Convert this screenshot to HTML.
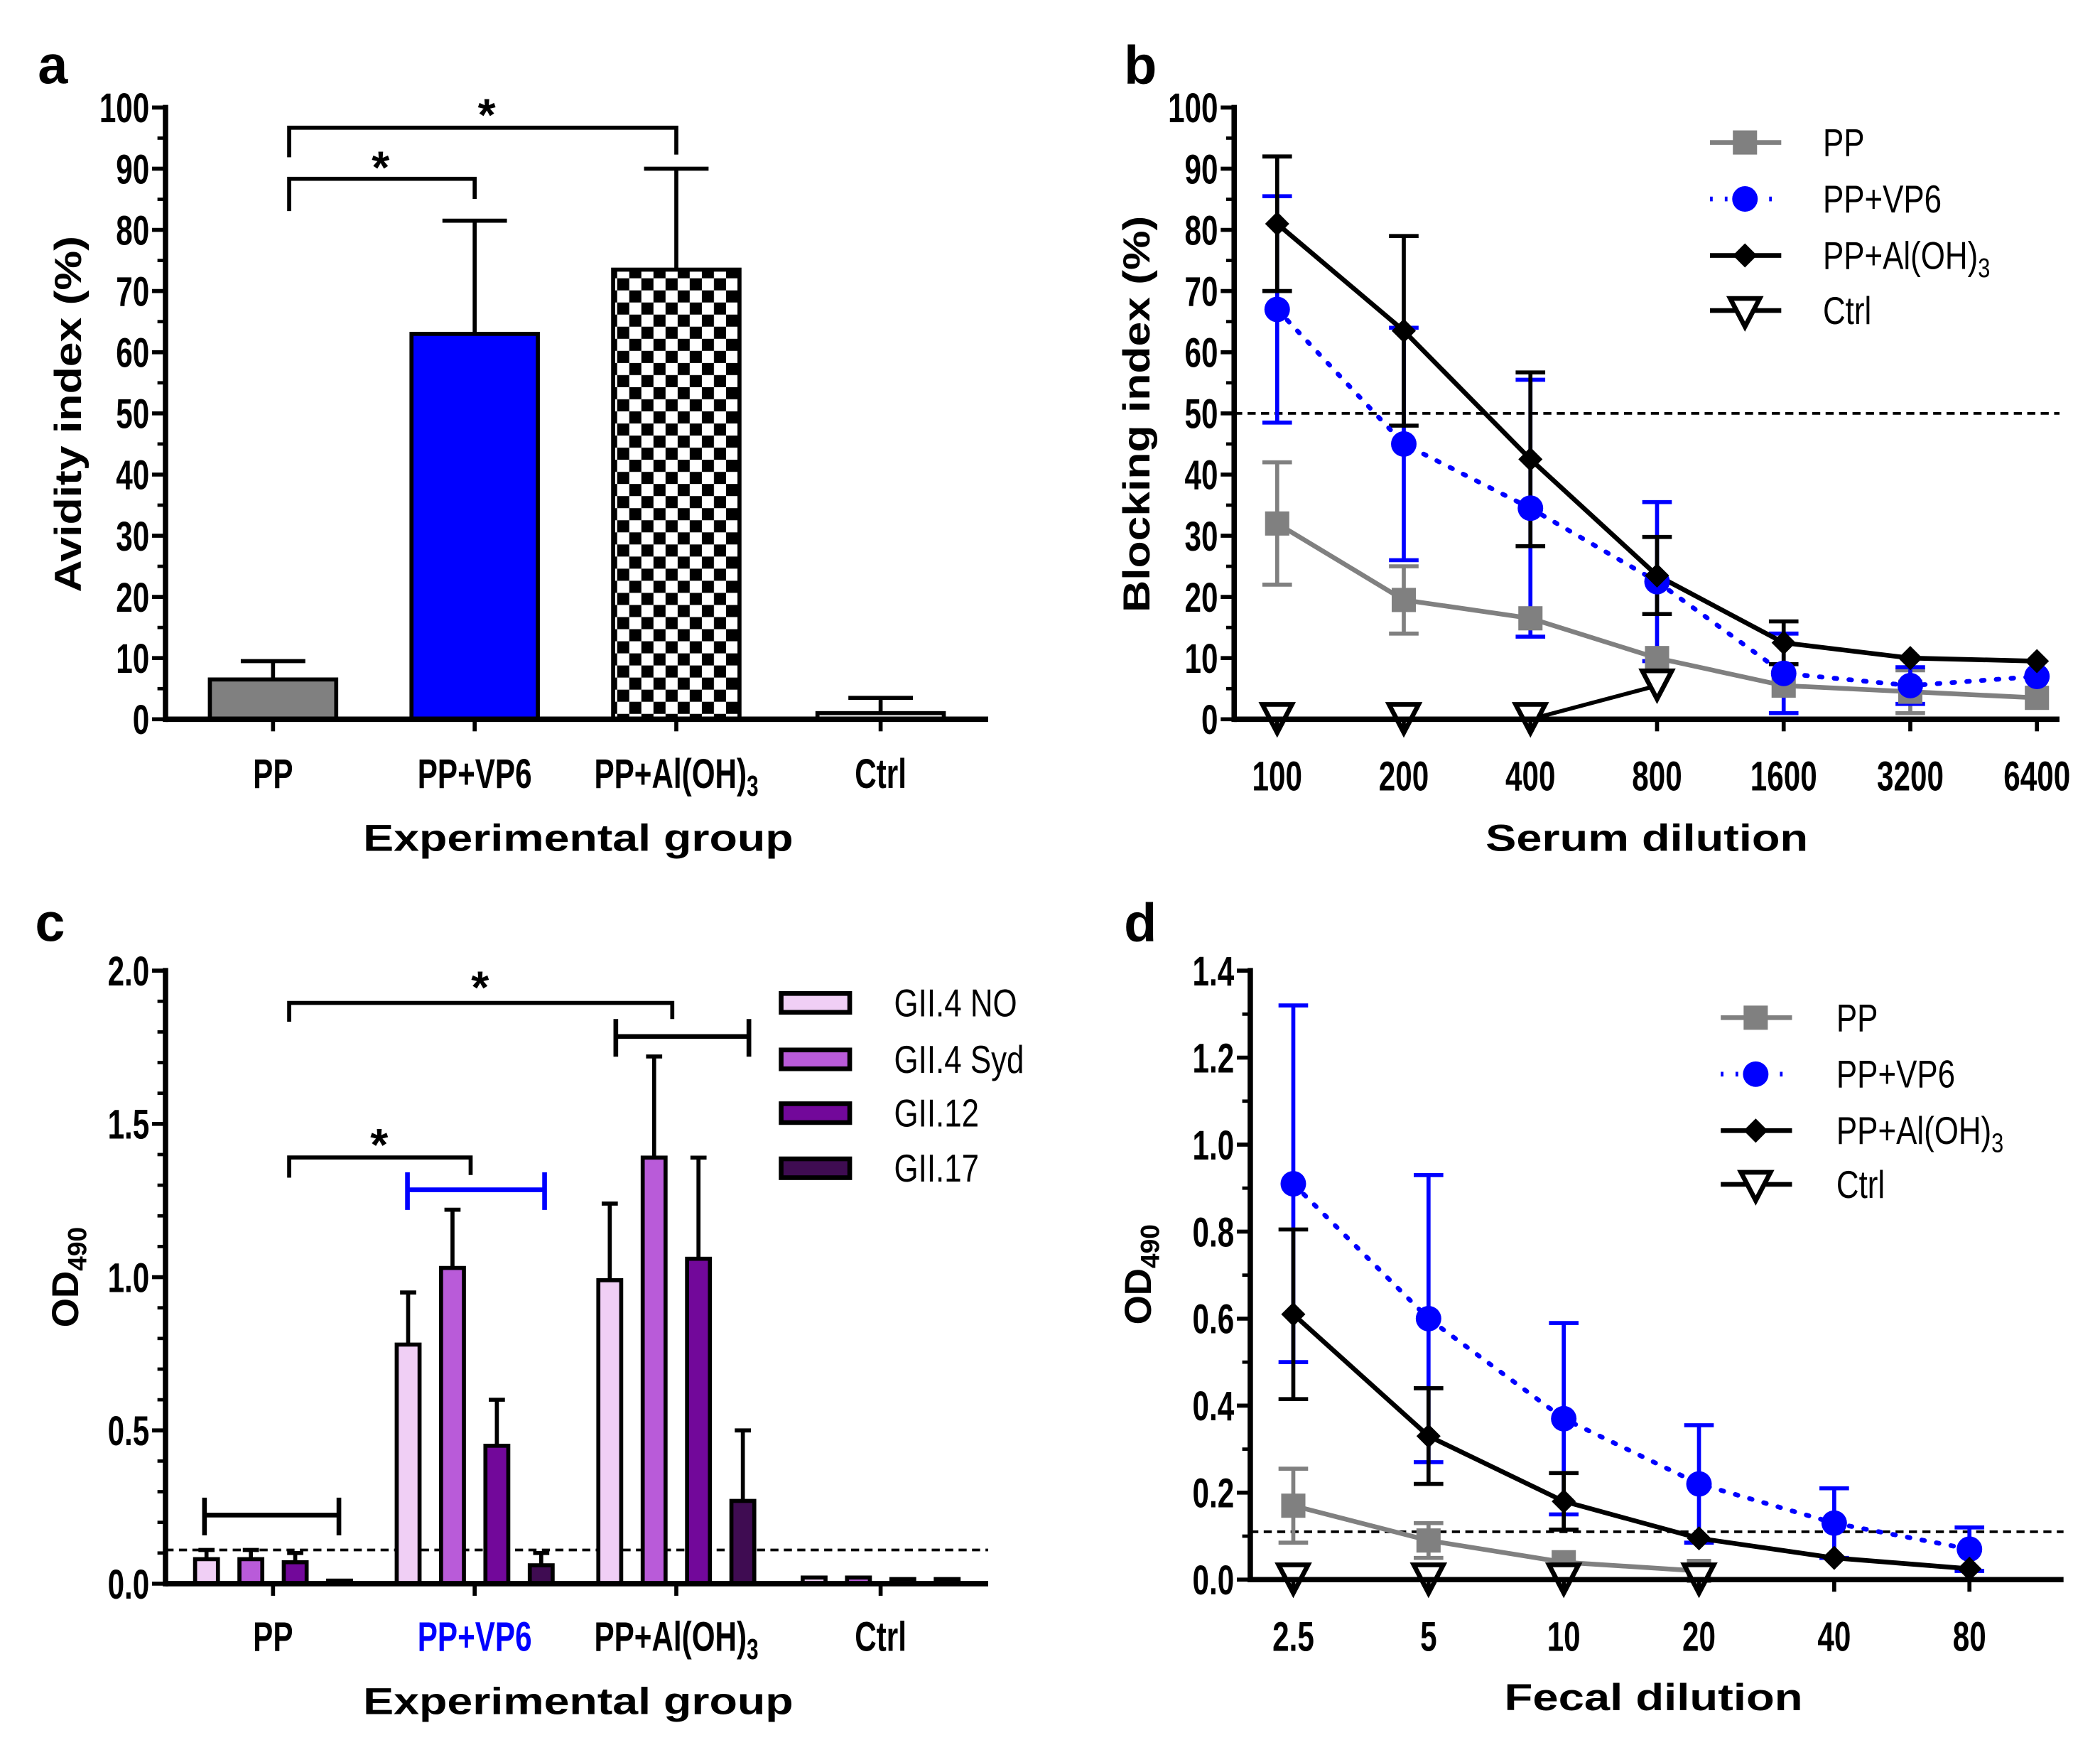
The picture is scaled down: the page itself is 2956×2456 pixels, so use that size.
<!DOCTYPE html>
<html><head><meta charset="utf-8"><style>
html,body{margin:0;padding:0;background:#fff}
svg{display:block}
</style></head><body>
<svg id="fig" xmlns="http://www.w3.org/2000/svg" width="2956" height="2456" viewBox="0 0 1562 1298">
<defs>
<pattern id="checker" patternUnits="userSpaceOnUse" width="18" height="18">
<rect width="18" height="18" fill="#fff"/><rect width="9" height="9" fill="#000"/><rect x="9" y="9" width="9" height="9" fill="#000"/>
</pattern>
</defs>
</svg>
<script>
// ---------- Panel a data ----------
const aGroups = ['PP','PP+VP6','PP+Al(OH)3','Ctrl'];
const aValues = [6.5, 63, 73.5, 1];
const aErrors = [3, 18.5, 16.5, 2.5];
const aTicks = [0,10,20,30,40,50,60,70,80,90,100];
// ---------- Panel b data ----------
const bDilutions = ['100','200','400','800','1600','3200','6400'];
const bPP = [32, 19.5, 16.5, 10, 5.5, 4.5, 3.5];
const bPPerr = [10, 5.5, 0, 0, 0, 3.5, 0];
const bVP6 = [67, 45, 34.5, 22.5, 7.5, 5.5, 7];
const bVP6err = [18.5, 19, 21, 13, 6.5, 3, 0];
const bAl = [81, 63.5, 42.5, 23.5, 12.5, 10, 9.5];
const bAlerr = [11, 15.5, 14.2, 6.3, 3.5, 0, 0];
const bCtrl = [0, 0, 0, 5.5];
const bTicks = [0,10,20,30,40,50,60,70,80,90,100];
// ---------- Panel c data ----------
const cGroups = ['PP','PP+VP6','PP+Al(OH)3','Ctrl'];
const cStrains = ['GII.4 NO','GII.4 Syd','GII.12','GII.17'];
const cNO = [0.08, 0.78, 0.99, 0.02];
const cNOerr = [0.03, 0.17, 0.25, 0];
const cSyd = [0.08, 1.03, 1.39, 0.02];
const cSyderr = [0.03, 0.19, 0.33, 0];
const cG12 = [0.07, 0.45, 1.06, 0.015];
const cG12err = [0.03, 0.15, 0.33, 0];
const cG17 = [0.01, 0.06, 0.27, 0.015];
const cG17err = [0, 0.04, 0.23, 0];
const cTicks = ['0.0','0.5','1.0','1.5','2.0'];
// ---------- Panel d data ----------
const dDilutions = ['2.5','5','10','20','40','80'];
const dPP = [0.17, 0.09, 0.04, 0.02];
const dPPerr = [0.085, 0.04, 0, 0];
const dVP6 = [0.91, 0.60, 0.37, 0.22, 0.13, 0.07];
const dVP6err = [0.41, 0.33, 0.22, 0.135, 0.08, 0.05];
const dAl = [0.61, 0.33, 0.18, 0.095, 0.05, 0.025];
const dAlerr = [0.195, 0.11, 0.065, 0, 0, 0];
const dCtrl = [0, 0, 0, 0];
const dTicks = ['0.0','0.2','0.4','0.6','0.8','1.0','1.2','1.4'];

const svg = document.getElementById('fig');
const NS = 'http://www.w3.org/2000/svg';
const FONT = '"Liberation Sans", Arial, sans-serif';
const TS = 31, TSX = 0.72;

function mk(tag, attrs, name){
  const el = document.createElementNS(NS, tag);
  for (const k in attrs) el.setAttribute(k, attrs[k]);
  
  
  svg.appendChild(el);
  return el;
}
function line(x1,y1,x2,y2,stroke,w,name,dash){
  const a = {x1:x1,y1:y1,x2:x2,y2:y2,stroke:stroke,'stroke-width':w};
  if (dash) a['stroke-dasharray']=dash;
  return mk('line', a, name);
}
function txt(x,y,s,size,weight,anchor,sx,fill,name,rot,len){
  let tr = 'translate('+x+','+y+')';
  if (rot) tr += ' rotate('+rot+')';
  if (sx && sx!==1) tr += ' scale('+sx+',1)';
  const a = {transform:tr,'font-family':FONT,'font-size':size,'font-weight':weight,'text-anchor':anchor,fill:fill||'#000'};
  if (len){a.textLength=len;a.lengthAdjust='spacingAndGlyphs';}
  const el = mk('text', a, name);
  el.textContent = s;
  return el;
}
function sub3(el, main, sub){
  el.textContent = '';
  const t1 = document.createElementNS(NS,'tspan'); t1.textContent = main; el.appendChild(t1);
  const t2 = document.createElementNS(NS,'tspan'); t2.setAttribute('font-size','0.7em'); t2.setAttribute('dy','6'); t2.textContent = sub; el.appendChild(t2);
}
function groupLabel(x,y,g,name,fill){
  const el = txt(x,y,g,TS,'bold','middle',TSX,fill,name);
  if (g==='PP+Al(OH)3') sub3(el,'PP+Al(OH)','3');
  return el;
}

// ================= PANEL A =================
const aX0=123, aY0=535, aYtop=80, aXend=735;
const aCenters=[203,353,503,655];
function yA(v){return aY0-(v/100)*(aY0-aYtop);}
txt(28,62,'a',40,'bold','start',1,'#000','panel-a-label');
aTicks.forEach(t=>{
  line(aX0-10,yA(t),aX0,yA(t),'#000',3,'y-tick-a');
  txt(111,yA(t)+11,String(t),TS,'bold','end',TSX,'#000','y-tick-label-a');
});
for(let t=5;t<100;t+=10) line(aX0-6,yA(t),aX0,yA(t),'#000',2.5,'y-minor-tick-a');
const aFills=['#808080','#0000ff','url(#checker)','#fff'];
aGroups.forEach((g,i)=>{
  const x=aCenters[i], v=aValues[i], e=aErrors[i];
  line(x,yA(v),x,yA(v+e),'#000',3,'error-bar-a');
  line(x-24,yA(v+e),x+24,yA(v+e),'#000',3,'error-cap-a');
  mk('rect',{x:x-47,y:yA(v),width:94,height:aY0-yA(v),fill:aFills[i],stroke:'#000','stroke-width':3},'bar-a-'+i);
  line(x,aY0,x,aY0+9,'#000',3,'x-tick-a');
  groupLabel(x,586,g,'x-tick-label-a');
});
line(aX0,aYtop-2,aX0,aY0+2,'#000',4,'y-axis-a');
line(aX0,aY0,aXend,aY0,'#000',4,'x-axis-a');
mk('polyline',{points:[215,157,215,133,353,133,353,148].join(','),fill:'none',stroke:'#000','stroke-width':3},'sig-bracket-a-1');
txt(283,136,'*',34,'bold','middle',1,'#000','sig-star-a-1');
mk('polyline',{points:[215,117,215,95,503,95,503,115].join(','),fill:'none',stroke:'#000','stroke-width':3},'sig-bracket-a-2');
txt(362,97,'*',34,'bold','middle',1,'#000','sig-star-a-2');
txt(430,633,'Experimental group',28,'bold','middle',1,'#000','x-axis-title-a',0,320);
txt(60,308,'Avidity index (%)',28,'bold','middle',1,'#000','y-axis-title-a',-90,265);

// ================= PANEL B =================
const bX0=918, bY0=535, bYtop=80, bXend=1532;
function yB(v){return bY0-(v/100)*(bY0-bYtop);}
function xB(i){return 950+i*94.2;}
txt(836,62,'b',40,'bold','start',1,'#000','panel-b-label');
bTicks.forEach(t=>{
  line(bX0-10,yB(t),bX0,yB(t),'#000',3,'y-tick-b');
  txt(906,yB(t)+11,String(t),TS,'bold','end',TSX,'#000','y-tick-label-b');
});
for(let t=5;t<100;t+=10) line(bX0-6,yB(t),bX0,yB(t),'#000',2.5,'y-minor-tick-b');
line(bX0,yB(50),bXend,yB(50),'#000',2,'threshold-line-b','6,4');
function errB(vals,errs,color,nm){
  vals.forEach((v,i)=>{ if(!errs[i]) return;
    const x=xB(i);
    line(x,yB(v-errs[i]),x,yB(v+errs[i]),color,3,nm);
    line(x-11,yB(v+errs[i]),x+11,yB(v+errs[i]),color,3,nm+'-cap');
    line(x-11,yB(v-errs[i]),x+11,yB(v-errs[i]),color,3,nm+'-cap');
  });
}
function pathFrom(vals,xf,yf){return vals.map((v,i)=>(i?'L':'M')+xf(i)+','+yf(v)).join(' ');}
errB(bPP,bPPerr,'#808080','error-bar-b-pp');
errB(bVP6,bVP6err,'#0000ff','error-bar-b-vp6');
errB(bAl,bAlerr,'#000','error-bar-b-al');
mk('path',{d:pathFrom(bPP,xB,yB),fill:'none',stroke:'#808080','stroke-width':3.5},'line-b-pp');
mk('path',{d:pathFrom(bVP6,xB,yB),fill:'none',stroke:'#0000ff','stroke-width':3.5,'stroke-dasharray':'2,9','stroke-linecap':'round'},'line-b-vp6');
mk('path',{d:pathFrom(bAl,xB,yB),fill:'none',stroke:'#000','stroke-width':3.5},'line-b-al');
mk('path',{d:pathFrom(bCtrl,xB,yB),fill:'none',stroke:'#000','stroke-width':3},'line-b-ctrl');
function sq(x,y,c,nm){mk('rect',{x:x-9,y:y-9,width:18,height:18,fill:c},nm);}
function circ(x,y,c,nm){mk('circle',{cx:x,cy:y,r:9.5,fill:c},nm);}
function dia(x,y,c,nm){mk('polygon',{points:[x,y-9,x+9,y,x,y+9,x-9,y].join(','),fill:c},nm);}
function tri(x,y,nm){mk('polygon',{points:[x-11,y-9,x+11,y-9,x,y+12].join(','),fill:'#fff',stroke:'#000','stroke-width':3.5},nm);}
bPP.forEach((v,i)=>sq(xB(i),yB(v),'#808080','point-b-pp'));
bVP6.forEach((v,i)=>circ(xB(i),yB(v),'#0000ff','point-b-vp6'));
bAl.forEach((v,i)=>dia(xB(i),yB(v),'#000','point-b-al'));
bCtrl.forEach((v,i)=>tri(xB(i),yB(v)-2,'point-b-ctrl'));
line(bX0,bYtop-2,bX0,bY0+2,'#000',4,'y-axis-b');
line(bX0,bY0,bXend,bY0,'#000',4,'x-axis-b');
bDilutions.forEach((d,i)=>{
  line(xB(i),bY0,xB(i),bY0+9,'#000',3,'x-tick-b');
  txt(xB(i),588,d,TS,'bold','middle',TSX,'#000','x-tick-label-b');
});
txt(1225,633,'Serum dilution',28,'bold','middle',1,'#000','x-axis-title-b',0,240);
txt(855,308,'Blocking index (%)',28,'bold','middle',1,'#000','y-axis-title-b',-90,295);
function legend(x,ys,tx,nmp){
  line(x,ys[0],x+53,ys[0],'#808080',3.5,nmp+'-line-pp'); sq(x+26,ys[0],'#808080',nmp+'-marker-pp');
  line(x,ys[1],x+53,ys[1],'#0000ff',3.5,nmp+'-line-vp6','2,9'); circ(x+26,ys[1],'#0000ff',nmp+'-marker-vp6');
  line(x,ys[2],x+53,ys[2],'#000',3.5,nmp+'-line-al'); dia(x+26,ys[2],'#000',nmp+'-marker-al');
  line(x,ys[3],x+53,ys[3],'#000',3.5,nmp+'-line-ctrl'); tri(x+26,ys[3],nmp+'-marker-ctrl');
  txt(tx,ys[0]+10,'PP',29,'normal','start',0.8,'#000',nmp+'-entry-pp');
  txt(tx,ys[1]+10,'PP+VP6',29,'normal','start',0.8,'#000',nmp+'-entry-vp6');
  const t=txt(tx,ys[2]+10,'',29,'normal','start',0.8,'#000',nmp+'-entry-al'); sub3(t,'PP+Al(OH)','3');
  txt(tx,ys[3]+10,'Ctrl',29,'normal','start',0.8,'#000',nmp+'-entry-ctrl');
}
legend(1272,[106,148,190,231],1356,'legend-b');

// ================= PANEL C =================
const cX0=123, cY0=1178, cYtop=722, cXend=735;
const cCenters=[203,353,503,655];
function yC(v){return cY0-(v/2)*(cY0-cYtop);}
txt(26,700,'c',40,'bold','start',1,'#000','panel-c-label');
cTicks.forEach(t=>{
  const v=parseFloat(t);
  line(cX0-10,yC(v),cX0,yC(v),'#000',3,'y-tick-c');
  txt(111,yC(v)+11,t,TS,'bold','end',TSX,'#000','y-tick-label-c');
});
for(let k=1;k<20;k++){ if(k%5) line(cX0-6,yC(k/10),cX0,yC(k/10),'#000',2.5,'y-minor-tick-c'); }
line(cX0,yC(0.11),cXend,yC(0.11),'#000',2,'threshold-line-c','6,4');
const cSeries=[cNO,cSyd,cG12,cG17], cErr=[cNOerr,cSyderr,cG12err,cG17err];
const cColors=['#f0cff5','#b95bd9','#72089a','#3f0c52'];
const cOff=[-49.5,-16.5,16.5,49.5];
cGroups.forEach((g,gi)=>{
  cSeries.forEach((s,si)=>{
    const x=cCenters[gi]+cOff[si], v=s[gi], e=cErr[si][gi];
    if(e){ line(x,yC(v),x,yC(v+e),'#000',3,'error-bar-c'); line(x-6,yC(v+e),x+6,yC(v+e),'#000',3,'error-cap-c'); }
    mk('rect',{x:x-8.5,y:yC(v),width:17,height:Math.max(cY0-yC(v),0.5),fill:cColors[si],stroke:'#000','stroke-width':3},'bar-c-'+gi+'-'+si);
  });
  line(cCenters[gi],cY0,cCenters[gi],cY0+9,'#000',3,'x-tick-c');
  groupLabel(cCenters[gi],1228,g,'x-tick-label-c',gi===1?'#0000ff':'#000');
});
line(cX0,cYtop-2,cX0,cY0+2,'#000',4,'y-axis-c');
line(cX0,cY0,cXend,cY0,'#000',4,'x-axis-c');
function hbar(x1,x2,y,c,nm){line(x1,y,x2,y,c,3.5,nm);line(x1,y-13,x1,y+15,c,3.5,nm+'-cap');line(x2,y-13,x2,y+15,c,3.5,nm+'-cap');}
hbar(152,252,1127,'#000','range-bar-c-pp');
hbar(303,405,885,'#0000ff','range-bar-c-vp6');
hbar(458,557,771,'#000','range-bar-c-al');
mk('polyline',{points:[215,876,215,861,350,861,350,874].join(','),fill:'none',stroke:'#000','stroke-width':3},'sig-bracket-c-1');
txt(282,863,'*',34,'bold','middle',1,'#000','sig-star-c-1');
mk('polyline',{points:[215,760,215,746,500,746,500,758].join(','),fill:'none',stroke:'#000','stroke-width':3},'sig-bracket-c-2');
txt(357,746,'*',34,'bold','middle',1,'#000','sig-star-c-2');
const cLegY=[746,788,828,869];
cStrains.forEach((s,i)=>{
  mk('rect',{x:581,y:cLegY[i]-7,width:51,height:14,fill:cColors[i],stroke:'#000','stroke-width':3.5},'legend-c-swatch-'+i);
  txt(665,cLegY[i]+10,s,29,'normal','start',0.8,'#000','legend-c-entry-'+i);
});
txt(430,1275,'Experimental group',28,'bold','middle',1,'#000','x-axis-title-c',0,320);
const odc=txt(58,950,'',28,'bold','middle',1,'#000','y-axis-title-c',-90); sub3(odc,'OD','490');

// ================= PANEL D =================
const dX0=930, dY0=1175, dYtop=722, dXend=1535;
function yD(v){return dY0-(v/1.4)*(dY0-dYtop);}
function xD(i){return 962+i*100.6;}
txt(836,700,'d',40,'bold','start',1,'#000','panel-d-label');
dTicks.forEach(t=>{
  const v=parseFloat(t);
  line(dX0-10,yD(v),dX0,yD(v),'#000',3,'y-tick-d');
  txt(918,yD(v)+11,t,TS,'bold','end',TSX,'#000','y-tick-label-d');
});
for(let k=1;k<14;k+=2) line(dX0-6,yD(k/10),dX0,yD(k/10),'#000',2.5,'y-minor-tick-d');
line(dX0,yD(0.11),dXend,yD(0.11),'#000',2,'threshold-line-d','6,4');
function errD(vals,errs,color,nm){
  vals.forEach((v,i)=>{ if(!errs[i]) return;
    const x=xD(i);
    line(x,yD(Math.max(v-errs[i],0)),x,yD(v+errs[i]),color,3,nm);
    line(x-11,yD(v+errs[i]),x+11,yD(v+errs[i]),color,3,nm+'-cap');
    line(x-11,yD(v-errs[i]),x+11,yD(v-errs[i]),color,3,nm+'-cap');
  });
}
errD(dPP,dPPerr,'#808080','error-bar-d-pp');
errD(dVP6,dVP6err,'#0000ff','error-bar-d-vp6');
errD(dAl,dAlerr,'#000','error-bar-d-al');
mk('path',{d:pathFrom(dPP,xD,yD),fill:'none',stroke:'#808080','stroke-width':3.5},'line-d-pp');
mk('path',{d:pathFrom(dVP6,xD,yD),fill:'none',stroke:'#0000ff','stroke-width':3.5,'stroke-dasharray':'2,9','stroke-linecap':'round'},'line-d-vp6');
mk('path',{d:pathFrom(dAl,xD,yD),fill:'none',stroke:'#000','stroke-width':3.5},'line-d-al');
dPP.forEach((v,i)=>sq(xD(i),yD(v),'#808080','point-d-pp'));
dVP6.forEach((v,i)=>circ(xD(i),yD(v),'#0000ff','point-d-vp6'));
dAl.forEach((v,i)=>dia(xD(i),yD(v),'#000','point-d-al'));
dCtrl.forEach((v,i)=>tri(xD(i),yD(v)-2,'point-d-ctrl'));
line(dX0,dYtop-2,dX0,dY0+2,'#000',4,'y-axis-d');
line(dX0,dY0,dXend,dY0,'#000',4,'x-axis-d');
dDilutions.forEach((d,i)=>{
  line(xD(i),dY0,xD(i),dY0+9,'#000',3,'x-tick-d');
  txt(xD(i),1228,d,TS,'bold','middle',TSX,'#000','x-tick-label-d');
});
txt(1230,1272,'Fecal dilution',28,'bold','middle',1,'#000','x-axis-title-d',0,222);
const odd=txt(856,948,'',28,'bold','middle',1,'#000','y-axis-title-d',-90); sub3(odd,'OD','490');
legend(1280,[757,799,841,881],1366,'legend-d');
</script>
</body></html>
